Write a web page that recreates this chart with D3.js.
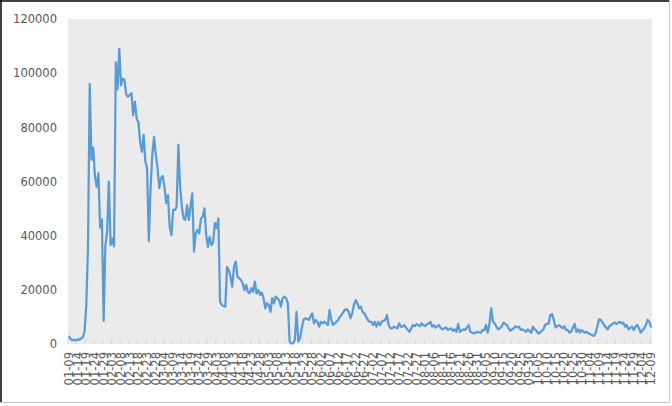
<!DOCTYPE html>
<meta charset="utf-8">
<style>
body { margin: 0; background: #fff; }
.axis text { font: 11.5px "DejaVu Sans", sans-serif; fill: #595959; }
.axis path { display: none; }
.line { fill: none; stroke: #5b9bd5; stroke-width: 2.25px; stroke-linejoin: round; }
</style>
<body>
<script src="https://d3js.org/d3.v7.min.js"></script>
<script>

// daily series, 2020-01-09 .. 2020-12-09 (one value per day)
var startDate = "2020-01-09",
    endDate = "2020-12-09";

var values = [
  3000, 1800, 1400, 1600, 1300, 1700, 1500, 2100, 2400, 4500,
  14000, 36000, 96000, 68000, 72500, 62000, 58000, 63000, 43000, 46000,
  8500, 36500, 41500, 60000, 36500, 39000, 36000, 104000, 94000, 109000,
  95500, 98000, 97500, 92000, 91300, 92000, 92600, 84500, 89500, 83300,
  82000, 74700, 71000, 77200, 67300, 65000, 38000, 57500, 69800, 76500,
  70000, 65000, 57600, 61300, 62000, 58100, 52000, 55000, 43300, 40200,
  49500, 49500, 50700, 73500, 58100, 50700, 46400, 45800, 51300, 45800,
  50700, 55600, 34100, 40900, 42100, 40900, 46400, 47000, 50100, 40200,
  35900, 39600, 36500, 37500, 44600, 42800, 46400, 15600, 14400, 14000,
  13800, 28500, 27300, 24800, 21200, 28500, 30400, 24800, 24300, 23600,
  22400, 19900, 21800, 19300, 18700, 20600, 19300, 23000, 18700, 19900,
  18100, 19000, 16900, 13200, 15000, 14400, 11900, 16900, 15000, 17500,
  16800, 16200, 13800, 16900, 17500, 16900, 15000, 850, 250, 250,
  1500, 11900, 850, 2100, 5800, 8900, 9500, 9200, 8900, 10100,
  11300, 7600, 8900, 8200, 6400, 8200, 7600, 8200, 7600, 7000,
  12600, 8900, 7000, 7600, 8200, 8900, 10100, 10800, 11900, 12800,
  12800, 11900, 9500, 11300, 14400, 16200, 15000, 13200, 13800, 11900,
  11300, 10100, 8900, 8200, 8200, 7000, 8200, 6400, 8200, 7000,
  8200, 8600, 8900, 10700, 7000, 5800, 5800, 6400, 6000, 5800,
  7600, 6400, 6400, 7000, 6000, 5200, 4500, 5800, 7000, 6600,
  7300, 7000, 6600, 7600, 7000, 6600, 7300, 7600, 8200, 6400,
  7000, 6100, 6500, 7000, 5800, 5400, 5800, 6100, 5200, 5500,
  5800, 4900, 5400, 4500, 7400, 4500, 5000, 5400, 5200, 6000,
  7000, 4500, 4200, 3900, 4200, 4500, 4300, 4200, 5200, 5000,
  7000, 4200, 7600, 13200, 8200, 7600, 6400, 5400, 5800, 6400,
  7900, 7400, 7000, 5800, 4900, 5400, 5800, 6600, 6100, 6400,
  5200, 5400, 5000, 4500, 5400, 4800, 4200, 6400, 5400, 4900,
  3900, 4200, 4800, 5400, 7000, 7400, 7600, 10700, 11100, 8900,
  6100, 6600, 7000, 6400, 5800, 6600, 5200, 5200, 4200, 4500,
  6000, 7400, 4500, 5400, 4200, 5200, 4500, 4200, 4500, 3900,
  3600, 3300, 3000, 3900, 6400, 9100, 8900, 8000, 7000, 6100,
  5400, 6600, 7000, 7600, 7900, 7400, 7800, 8200, 7600, 7900,
  6400, 7000, 5400, 6000, 6400, 5200, 6400, 7000, 5800, 4200,
  5000, 5800, 7000, 8900, 8200, 6100
];

var yTicks = [0, 20000, 40000, 60000, 80000, 100000, 120000];
var labelEvery = 5;

var width = 672, height = 406;
var plot = {left: 68, right: 652, top: 19, bottom: 344};

var fmt = d3.timeFormat("%m-%d"),
    parse = d3.timeParse("%Y-%m-%d");
var days = d3.timeDay.range(parse(startDate), d3.timeDay.offset(parse(endDate), 1));
var categories = days.map(fmt);

var data = categories.map(function(c, i) { return {cat: c, value: values[i]}; });

var svg = d3.select("body").append("svg")
    .attr("width", width)
    .attr("height", height);

// outer frame of the picture
svg.append("line").attr("x1", 0).attr("x2", 669).attr("y1", 1).attr("y2", 1)
    .attr("stroke", "#000").attr("stroke-width", 1.5);
svg.append("line").attr("x1", 1).attr("x2", 1).attr("y1", 0).attr("y2", 403)
    .attr("stroke", "#000").attr("stroke-width", 1.5);
svg.append("line").attr("x1", 669.5).attr("x2", 669.5).attr("y1", 0).attr("y2", 403)
    .attr("stroke", "#c8c8c8");
svg.append("line").attr("x1", 0).attr("x2", 670).attr("y1", 402.5).attr("y2", 402.5)
    .attr("stroke", "#c8c8c8");

var x = d3.scaleBand()
    .domain(categories)
    .range([plot.left, plot.right])
    .padding(0);

var y = d3.scaleLinear()
    .domain([0, 120000])
    .range([plot.bottom, plot.top]);

svg.append("rect")
    .attr("x", plot.left)
    .attr("y", plot.top)
    .attr("width", plot.right - plot.left)
    .attr("height", plot.bottom - plot.top)
    .attr("fill", "#ebebeb");

var labelCats = categories.filter(function(d, i) { return i % labelEvery === 0; });

// small inner tick marks along the bottom
svg.selectAll(".tickmark")
    .data(labelCats)
  .enter().append("line")
    .attr("class", "tickmark")
    .attr("x1", function(d) { return x(d); })
    .attr("x2", function(d) { return x(d); })
    .attr("y1", plot.bottom)
    .attr("y2", plot.bottom - 5)
    .attr("stroke", "#d6d6d6")
    .attr("stroke-width", 1);

var line = d3.line()
    .x(function(d) { return x(d.cat) + x.bandwidth() / 2; })
    .y(function(d) { return y(d.value); });

svg.append("path")
    .datum(data)
    .attr("class", "line")
    .attr("d", line);

var xAxis = d3.axisBottom(x)
    .tickValues(labelCats)
    .tickSize(0);

svg.append("g")
    .attr("class", "x axis")
    .attr("transform", "translate(0," + plot.bottom + ")")
    .call(xAxis)
  .selectAll("text")
    .attr("transform", "rotate(-90)")
    .attr("x", -8)
    .attr("y", 0)
    .attr("dy", "0.35em")
    .style("text-anchor", "end");

var yAxis = d3.axisLeft(y)
    .tickValues(yTicks)
    .tickFormat(d3.format("d"))
    .tickSize(0)
    .tickPadding(11);

svg.append("g")
    .attr("class", "y axis")
    .attr("transform", "translate(" + plot.left + ",0)")
    .call(yAxis);

</script>
